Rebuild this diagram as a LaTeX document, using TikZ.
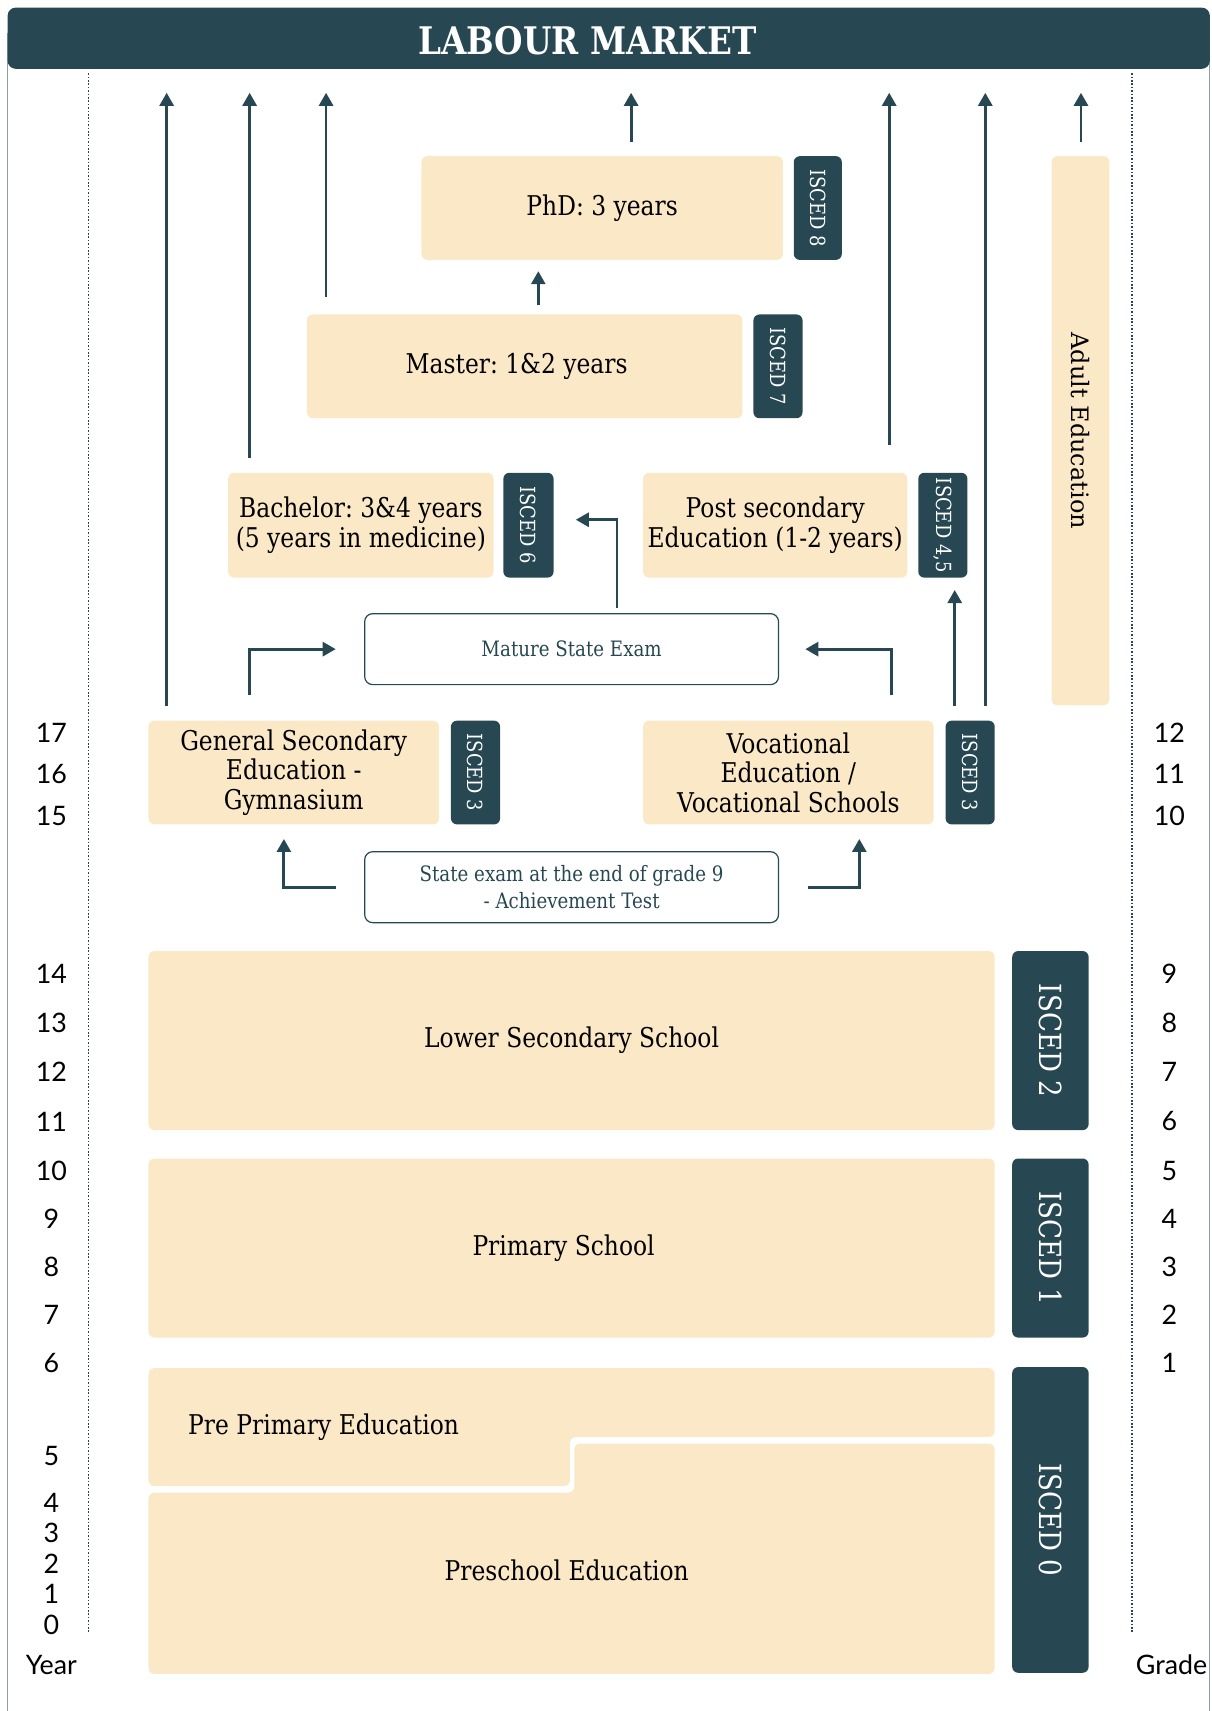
\documentclass[tikz,border=0pt]{standalone}
\usepackage{fontspec}
\setmainfont{DejaVu Serif}[FakeStretch=0.86]
\newfontfamily\latofont{Lato}
\newfontfamily\adultfont{DejaVu Serif}
\frenchspacing
\usetikzlibrary{arrows.meta,calc}
\definecolor{tealdk}{HTML}{274852}
\definecolor{beige}{HTML}{FBE8C7}
\definecolor{framegray}{HTML}{8E9EA5}
\newcommand\dpx{0.5459pt}
\begin{document}
\begin{tikzpicture}[x=0.5459pt,y=-0.5459pt,
  box/.style={fill=beige,rounded corners=3pt,inner sep=0pt,align=center,text=black,
    font=\fontsize{13.6}{14.7}\selectfont},
  isc/.style={fill=tealdk,rounded corners=3pt,inner sep=0pt,text=white,rotate=-90,
    font=\fontsize{10.4}{12}\selectfont},
  iscbig/.style={isc,font=\fontsize{15.2}{18}\selectfont},
  exam/.style={draw=tealdk,line width=0.6pt,fill=white,rounded corners=4pt,inner sep=0pt,
    align=center,text=tealdk,minimum width=379*\dpx,minimum height=65*\dpx,
    font=\fontsize{10.6}{13.5}\selectfont},
  arr/.style={draw=tealdk,line width=1.4pt,-{Triangle[width=7pt,length=6.5pt]}},
  num/.style={font=\latofont\fontsize{13.4}{15}\selectfont,text=black,inner sep=0pt},
  dots/.style={draw=tealdk,line width=0.9pt,dash pattern=on 0.8pt off 0.9pt}]
\useasboundingbox (0,0) rectangle (1110,1567);
% frame
\draw[framegray,line width=0.5pt] (7,30) -- (7,1567) (1108,30) -- (1108,1567);
% header
\node[fill=tealdk,rounded corners=4pt,minimum width=1101*\dpx,minimum height=56*\dpx,inner sep=0pt] (lm) at (557.5,35) {};
\node[text=white,font=\bfseries\fontsize{19}{22}\selectfont] (lmt) at (538,37) {LABOUR MARKET};
\coordinate (lmtip) at (0,85);
% dotted guides
\draw[dots] (81,67) -- (81,1495);
\draw[dots] (1037,67) -- (1037,1495);
% upper boxes
\node[box,minimum width=331*\dpx,minimum height=95*\dpx] (phd) at (551.5,190.5) {PhD: 3 years};
\node[isc,minimum width=95*\dpx,minimum height=44*\dpx] (i8) at (749,190.5) {ISCED 8};
\node[box,minimum width=399*\dpx,minimum height=95*\dpx] (mas) at (480.5,335.5) {\hspace*{-8pt}Master: 1\&2 years};
\node[isc,minimum width=95*\dpx,minimum height=45*\dpx] (i7) at (712.5,335.5) {ISCED 7};
\node[box,minimum width=243*\dpx,minimum height=96*\dpx] (bac) at (330.5,481) {Bachelor: 3\&4 years\\(5 years in medicine)};
\node[isc,minimum width=96*\dpx,minimum height=46*\dpx] (i6) at (484,481) {ISCED 6};
\node[box,minimum width=242*\dpx,minimum height=96*\dpx] (pos) at (710,481) {Post secondary\\Education (1-2 years)};
\node[isc,minimum width=96*\dpx,minimum height=45*\dpx] (i45) at (863.5,481) {ISCED 4,5};
\node[box,rotate=-90,minimum width=503*\dpx,minimum height=53*\dpx,font=\adultfont\fontsize{12}{14}\selectfont] (adu) at (989.5,394.5) {Adult Education};
\node[exam] (mat) at (523.5,594.5) {Mature State Exam};
\node[box,minimum width=266*\dpx,minimum height=95*\dpx] (gen) at (269,707.5) {General Secondary\\Education -\\Gymnasium};
\node[isc,minimum width=95*\dpx,minimum height=45*\dpx] (i3a) at (435.5,707.5) {ISCED 3};
\node[box,minimum width=266*\dpx,minimum height=95*\dpx] (voc) at (722,707.5) {Vocational\\Education /\\Vocational Schools};
\node[isc,minimum width=95*\dpx,minimum height=45*\dpx] (i3b) at (888.5,707.5) {ISCED 3};
\node[exam] (sta) at (523.5,812.5) {State exam at the end of grade 9\\- Achievement Test};
% lower boxes
\node[box,minimum width=775*\dpx,minimum height=164*\dpx] (low) at (523.5,953) {Lower Secondary School};
\node[iscbig,minimum width=164*\dpx,minimum height=70*\dpx] (i2) at (962,953) {ISCED 2};
\node[box,minimum width=775*\dpx,minimum height=164*\dpx] (pri) at (523.5,1143) {\hspace*{-8pt}Primary School};
\node[iscbig,minimum width=164*\dpx,minimum height=70*\dpx] (i1) at (962,1143) {ISCED 1};
\fill[beige,rounded corners=3pt] (136,1253) -- (911,1253) -- (911,1316) -- (522,1316) -- (522,1361) -- (136,1361) -- cycle;
\fill[beige,rounded corners=3pt] (136,1367) -- (526,1367) -- (526,1322) -- (911,1322) -- (911,1533) -- (136,1533) -- cycle;
\node[font=\fontsize{13.6}{14.7}\selectfont,anchor=west,inner sep=0pt] (pre) at (172,1307) {Pre Primary Education};
\node[font=\fontsize{13.6}{14.7}\selectfont,inner sep=0pt] (psch) at (519,1438) {Preschool Education};
\node[iscbig,minimum width=280*\dpx,minimum height=70*\dpx] (i0) at (962,1392) {ISCED 0};
% arrows to labour market
\coordinate (s1) at ($(gen.north west)+(17,-13)$);
\coordinate (s2) at ($(bac.north west)+(20,-13)$);
\coordinate (s3) at ($(mas.north west)+(18,-16)$);
\coordinate (s4) at ($(phd.north)+(26.5,-13)$);
\coordinate (s5) at ($(pos.north east)+(-17,-25)$);
\coordinate (s6) at ($(voc.north east)+(47,-13)$);
\coordinate (s7) at ($(adu.center)+(0.5,-264.5)$);
\foreach \s in {s1,s2,s3,s4,s5,s6,s7} \draw[arr] (\s) -- (\s |- lmtip);
% internal arrows
\coordinate (s8) at ($(gen.north west)+(93,-23)$);
\draw[arr] (s8) |- ($(mat.west)+(-26,0)$);
\coordinate (s9) at ($(voc.north east)+(-39,-23)$);
\draw[arr] (s9) |- ($(mat.east)+(24,0)$);
\coordinate (s10) at ($(mat.north)+(41.5,-5)$);
\draw[arr] (s10) |- ($(bac.east)+(75,-5)$);
\coordinate (s11) at ($(voc.north east)+(19,-13)$);
\coordinate (e11) at ($(pos.south)+(0,11)$);
\draw[arr] (s11) -- (s11 |- e11);
\coordinate (s12) at ($(mas.north)+(12.5,-8)$);
\coordinate (e12) at ($(phd.south)+(0,10)$);
\draw[arr] (s12) -- (s12 |- e12);
\draw[arr] ($(sta.west)+(-26,0)$) -| ($(gen.south)+(-9,13)$);
\draw[arr] ($(sta.east)+(26,0)$) -| ($(voc.south)+(65,13)$);
% year numbers
\foreach \t/\y in {17/671,16/709,15/747,14/892,13/937,12/982,11/1027,10/1072,9/1116,8/1160,7/1204,6/1248,5/1333,4/1376,3/1404,2/1432,1/1460,0/1488}
  \node[num] (yr\t) at (47,\y) {\t};
\node[num] (year) at (47,1525) {Year};
\foreach \t/\y in {12/671,11/709,10/747,9/892,8/937,7/982,6/1027,5/1072,4/1116,3/1160,2/1204,1/1248}
  \node[num] (gr\t) at (1071,\y) {\t};
\node[num] (grade) at (1073,1525) {Grade};
\end{tikzpicture}
\end{document}
